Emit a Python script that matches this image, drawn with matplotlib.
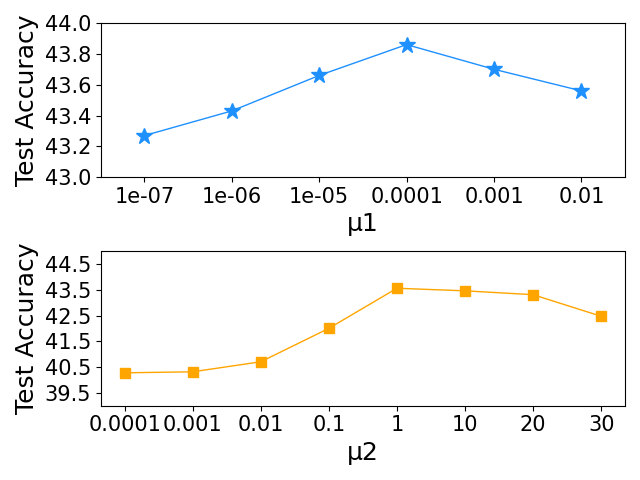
import numpy as np
import matplotlib
matplotlib.use("Agg")
import matplotlib.pyplot as plt

# mu1 sweep
mu1_labels = ["1e-07", "1e-06", "1e-05", "0.0001", "0.001", "0.01"]
mu1_acc = [43.27, 43.43, 43.66, 43.86, 43.70, 43.56]

# mu2 sweep
mu2_labels = ["0.0001", "0.001", "0.01", "0.1", "1", "10", "20", "30"]
mu2_acc = [40.28, 40.32, 40.71, 42.01, 43.57, 43.47, 43.32, 42.48]

fig = plt.figure(figsize=(6.4, 4.8))

ax = fig.add_subplot(2, 1, 1)
ax.plot(np.arange(len(mu1_acc)), mu1_acc, color="dodgerblue", marker="*",
        markersize=12, linewidth=1)
ax.set_xticks(np.arange(len(mu1_labels)))
ax.set_xticklabels(mu1_labels)
ax.set_xlim(-0.5, len(mu1_labels) - 0.5)
ax.set_ylim(43.0, 44.0)
ax.set_yticks(np.arange(43.0, 44.01, 0.2))
ax.set_xlabel("μ1", fontsize=18)
ax.set_ylabel("Test Accuracy", fontsize=18)
plt.setp(ax.get_xticklabels(), fontsize=15)
plt.setp(ax.get_yticklabels(), fontsize=15)

ax2 = fig.add_subplot(2, 1, 2)
ax2.plot(np.arange(len(mu2_acc)), mu2_acc, color="orange", marker="s",
         markersize=7, linewidth=1)
ax2.set_xticks(np.arange(len(mu2_labels)))
ax2.set_xticklabels(mu2_labels)
ax2.set_ylim(39.0, 45.0)
ax2.set_yticks(np.arange(39.5, 44.6, 1.0))
ax2.set_xlabel("μ2", fontsize=18)
ax2.set_ylabel("Test Accuracy", fontsize=18)
plt.setp(ax2.get_xticklabels(), fontsize=15)
plt.setp(ax2.get_yticklabels(), fontsize=15)

plt.tight_layout()
plt.savefig("out.png", dpi=100)
